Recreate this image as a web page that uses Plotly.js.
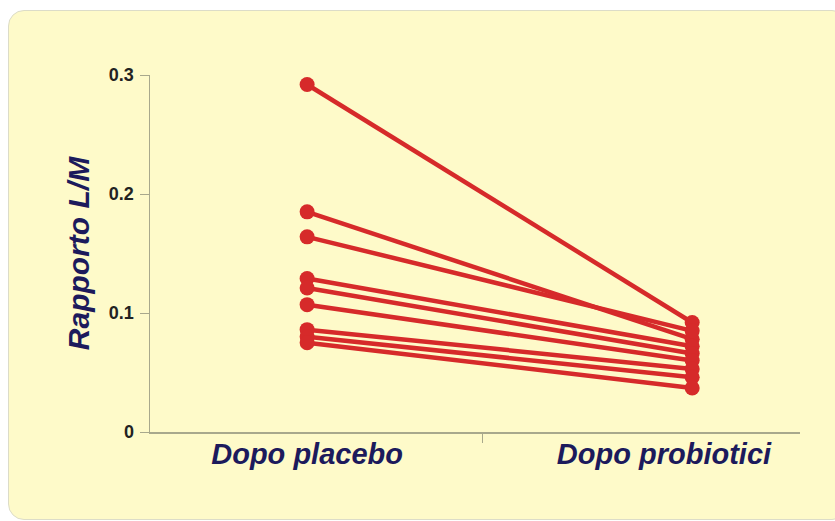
<!DOCTYPE html>
<html>
<head>
<meta charset="utf-8">
<script src="https://cdn.plot.ly/plotly-3.0.1.min.js"></script>
<style>
  html, body { margin: 0; padding: 0; background: #ffffff; }
  #wrap { position: relative; width: 835px; height: 521px; overflow: hidden; }
  #panel { position: absolute; left: 8px; top: 10px; width: 840px; height: 510px;
           background: #fefac9; border: 1px solid #dcdcc8; border-radius: 16px; box-sizing: border-box; }
  #chart { position: absolute; left: 0; top: 0; width: 835px; height: 521px; }
</style>
</head>
<body>
<div id="wrap">
  <div id="panel"></div>
  <div id="chart"></div>
</div>
<script>
// Data
const categories = ['Dopo placebo', 'Dopo probiotici'];
const placebo    = [0.292, 0.185, 0.164, 0.129, 0.121, 0.107, 0.086, 0.080, 0.075];
const probiotici = [0.092, 0.078, 0.085, 0.072, 0.066, 0.060, 0.053, 0.046, 0.037];
const yTickVals  = [0, 0.1, 0.2, 0.3];
const yTickText  = ['0', '0.1', '0.2', '0.3'];
const yTitle     = 'Rapporto L/M';
const dividerTick = [0.455];   // separator tick between the two groups

const red = '#d62a2a';
const traces = placebo.map((p, i) => ({
  type: 'scatter',
  mode: 'lines+markers',
  x: categories,
  y: [p, probiotici[i]],
  line: { color: red, width: 4.5 },
  marker: { color: red, size: 15, symbol: 'circle' },
  showlegend: false,
  hoverinfo: 'skip'
}));
// invisible helper so the separator-tick axis is drawn
traces.push({
  type: 'scatter', mode: 'markers', xaxis: 'x2', yaxis: 'y',
  x: dividerTick, y: [0], marker: { opacity: 0, size: 1 },
  showlegend: false, hoverinfo: 'skip'
});

const nb = '\u00a0';
const axisColor = '#a8a88c';
const xRange = [-0.408, 1.280];
const layout = {
  width: 835,
  height: 521,
  paper_bgcolor: 'rgba(0,0,0,0)',
  plot_bgcolor: 'rgba(0,0,0,0)',
  margin: { l: 150, r: 35, t: 75, b: 89 },
  showlegend: false,
  xaxis: {
    type: 'category',
    range: xRange,
    tickvals: categories,
    ticktext: [categories[0], categories[1] + nb.repeat(7)],
    showgrid: false,
    zeroline: false,
    showline: true,
    linecolor: axisColor,
    linewidth: 1.5,
    ticks: '',
    ticklabelstandoff: -4,
    tickfont: { family: 'Liberation Sans, Arial, sans-serif', size: 29, color: '#1c1a5c', weight: 'bold', style: 'italic' },
    fixedrange: true
  },
  xaxis2: {
    type: 'linear',
    overlaying: 'x',
    anchor: 'y',
    side: 'bottom',
    range: xRange,
    showgrid: false,
    zeroline: false,
    showline: false,
    tickvals: dividerTick,
    ticktext: [''],
    ticks: 'outside',
    ticklen: 10,
    tickcolor: axisColor,
    tickwidth: 1,
    fixedrange: true
  },
  yaxis: {
    range: [0, 0.3],
    tickvals: yTickVals,
    ticktext: yTickText,
    showgrid: false,
    zeroline: false,
    showline: true,
    linecolor: axisColor,
    linewidth: 1.5,
    ticks: 'outside',
    ticklen: 9,
    tickcolor: axisColor,
    tickwidth: 1,
    ticklabelstandoff: 2,
    tickfont: { family: 'Liberation Sans, Arial, sans-serif', size: 18, color: '#222222', weight: 'bold' },
    title: {
      text: yTitle,
      standoff: 10,
      font: { family: 'Liberation Sans, Arial, sans-serif', size: 30, color: '#1c1a5c', weight: 'bold', style: 'italic' }
    },
    fixedrange: true
  }
};

Plotly.newPlot('chart', traces, layout, { displayModeBar: false, staticPlot: true });
</script>
</body>
</html>
